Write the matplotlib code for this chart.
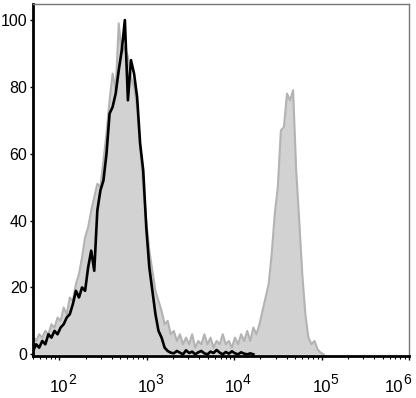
import numpy as np
import matplotlib
matplotlib.use("Agg")
import matplotlib.pyplot as plt
from matplotlib.transforms import blended_transform_factory, offset_copy

plt.rcParams['font.family'] = ['Liberation Sans', 'DejaVu Sans']

# histogram bins: log10 of channel value at bin start, step 0.035 decades
log_start = 1.70
log_step = 0.035

# gray filled histogram (stained sample), % of max
stained = [5.5, 4, 6, 5, 7, 6, 9, 8, 11, 10,
           14, 12, 17, 16, 21, 24, 29, 35, 38, 43,
           47, 51, 50, 58, 66, 76, 84, 79, 99, 90,
           92, 89, 83, 80, 74, 62, 50, 40, 31, 25,
           19, 16, 13, 9, 10, 6, 7, 4, 6, 3,
           5, 3, 6, 2, 4, 3, 6, 3, 5, 2,
           4, 3, 6, 3, 4, 2, 5, 3, 6, 4,
           7, 4, 8, 6, 9, 13, 17, 21, 30, 42,
           50, 67, 68, 78, 76, 79, 55, 40, 24, 12,
           5, 3, 4, 1.5, 0.5, 0]

# black line histogram (control), % of max
control = [1, 3, 2, 4, 3, 6, 5, 7, 6, 8,
           9, 11, 12, 15, 19, 17, 20, 19, 26, 31,
           25, 43, 49, 52, 60, 72, 74, 78, 85, 91,
           100, 76, 88, 84, 77, 63, 55, 38, 26, 19,
           12, 7, 5, 2, 1, 0.5, 0.3, 1, 0.5, 0,
           1.2, 0.4, 0.8, 0, 0.6, 1, 0.3, 0, 0.8, 0.4,
           1.3, 0.5, 0, 0.7, 0.2, 0.9, 0.3, 0, 0.6, 0.2,
           0, 0.3, 0]

x_ticks = [1e2, 1e3, 1e4, 1e5, 1e6]
x_exps = ['2', '3', '4', '5', '6']
y_ticks = [0, 20, 40, 60, 80, 100]

fig = plt.figure(figsize=(4.16, 3.98), dpi=100)
ax = fig.add_axes([0.0793, 0.1055, 0.9037, 0.8845])

xs = 10 ** (log_start + log_step * np.arange(len(stained)))
ax.fill_between(xs, stained, 0, color='#d2d2d2', lw=0, zorder=1)
ax.plot(xs, stained, color='#b3b3b3', lw=1.5, zorder=2)

xc = 10 ** (log_start + log_step * np.arange(len(control)))
ax.plot(xc, control, color='black', lw=1.9, zorder=3)

ax.set_xscale('log')
ax.set_xlim(50, 1e6)
ax.set_ylim(-0.5, 104.8)
ax.set_xticks(x_ticks)
ax.set_xticklabels([])
ax.set_yticks(y_ticks)
ax.tick_params(axis='x', which='major', length=3, width=1)
ax.tick_params(axis='x', which='minor', length=2, width=0.8)
ax.tick_params(axis='y', length=2, width=1, pad=2, labelsize=11.5)

# "10" centred under each tick with a raised exponent
trans = blended_transform_factory(ax.transData, ax.transAxes)
for i, (t, e) in enumerate(zip(x_ticks, x_exps)):
    shift = -15 if i == len(x_ticks) - 1 else 0
    base = offset_copy(trans, fig=fig, x=shift, y=-36, units='dots')
    ax.text(t, 0, '10', transform=base, ha='center', va='baseline',
            fontsize=12, clip_on=False)
    sup = offset_copy(trans, fig=fig, x=shift + 9, y=-28, units='dots')
    ax.text(t, 0, e, transform=sup, ha='left', va='baseline',
            fontsize=10, clip_on=False)

for s in ['left', 'bottom']:
    ax.spines[s].set_linewidth(2)
    ax.spines[s].set_color('black')
for s in ['top', 'right']:
    ax.spines[s].set_linewidth(1)
    ax.spines[s].set_color('#777777')

fig.savefig('out.png', dpi=100)
